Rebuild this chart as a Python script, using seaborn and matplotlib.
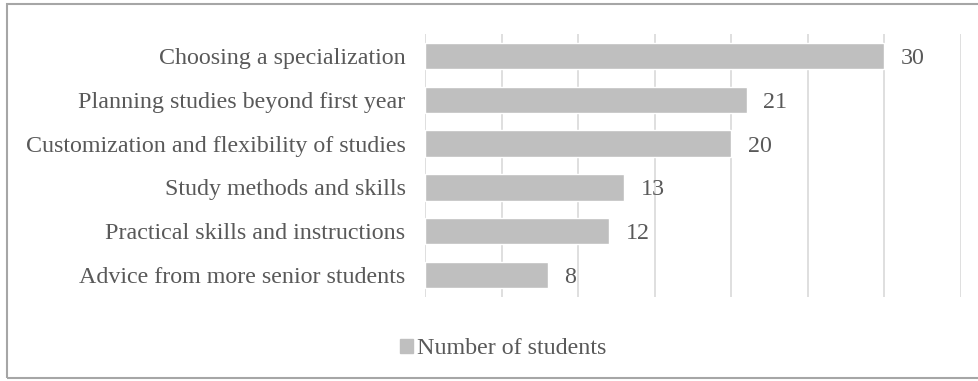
import matplotlib
matplotlib.use("Agg")
import matplotlib.pyplot as plt
import matplotlib.patches as mpatches
import seaborn as sns
import pandas as pd

categories = [
    "Choosing a specialization",
    "Planning studies beyond first year",
    "Customization and flexibility of studies",
    "Study methods and skills",
    "Practical skills and instructions",
    "Advice from more senior students",
]
values = [30, 21, 20, 13, 12, 8]
series_name = "Number of students"

sns.set_theme(style="white")
plt.rcParams["font.family"] = ["Liberation Serif", "DejaVu Serif"]

df = pd.DataFrame({"category": categories, "value": values})

fig = plt.figure(figsize=(9.79, 3.81), dpi=100)
ax = fig.add_axes([425 / 979, 1 - 297 / 381, (961 - 425) / 979, (297 - 34) / 381])

bar_color = "#bfbfbf"
text_color = "#595959"
fs = 17.3

sns.barplot(data=df, x="value", y="category", color=bar_color, width=0.6,
            saturation=1, ax=ax, zorder=2)

ax.set_xlim(0, 35)
ax.set_ylim(5.5, -0.5)
ax.set_xticks(range(0, 36, 5))
ax.set_xticklabels([])
ax.tick_params(axis="x", length=0)
ax.tick_params(axis="y", length=0, pad=14, labelsize=fs, labelcolor=text_color)
for t in ax.get_yticklabels():
    t.set_va("center_baseline")
ax.grid(axis="x", color="#d9d9d9", linewidth=1.2, zorder=0)
ax.set_axisbelow(True)
for s in ax.spines.values():
    s.set_visible(False)
ax.set_xlabel("")
ax.set_ylabel("")

for cont in ax.containers:
    texts = ax.bar_label(cont, labels=[str(v) for v in values], padding=12,
                         fontsize=fs, color=text_color)
    for t in texts:
        t.set_va("center_baseline")

handle = mpatches.Patch(color=bar_color, label=series_name)
fig.legend(handles=[handle], loc="center", bbox_to_anchor=(503 / 979, 1 - 349 / 381),
           frameon=False, fontsize=fs, handlelength=0.55, handleheight=0.55,
           handletextpad=0.15, labelcolor=text_color)

# outer chart border
border = mpatches.Rectangle((7 / 979, 3 / 381), 1.2, 1 - 7 / 381,
                            transform=fig.transFigure, fill=False,
                            edgecolor="#a6a6a6", linewidth=1.5)
fig.patches.append(border)

fig.savefig("out.png", dpi=100)
